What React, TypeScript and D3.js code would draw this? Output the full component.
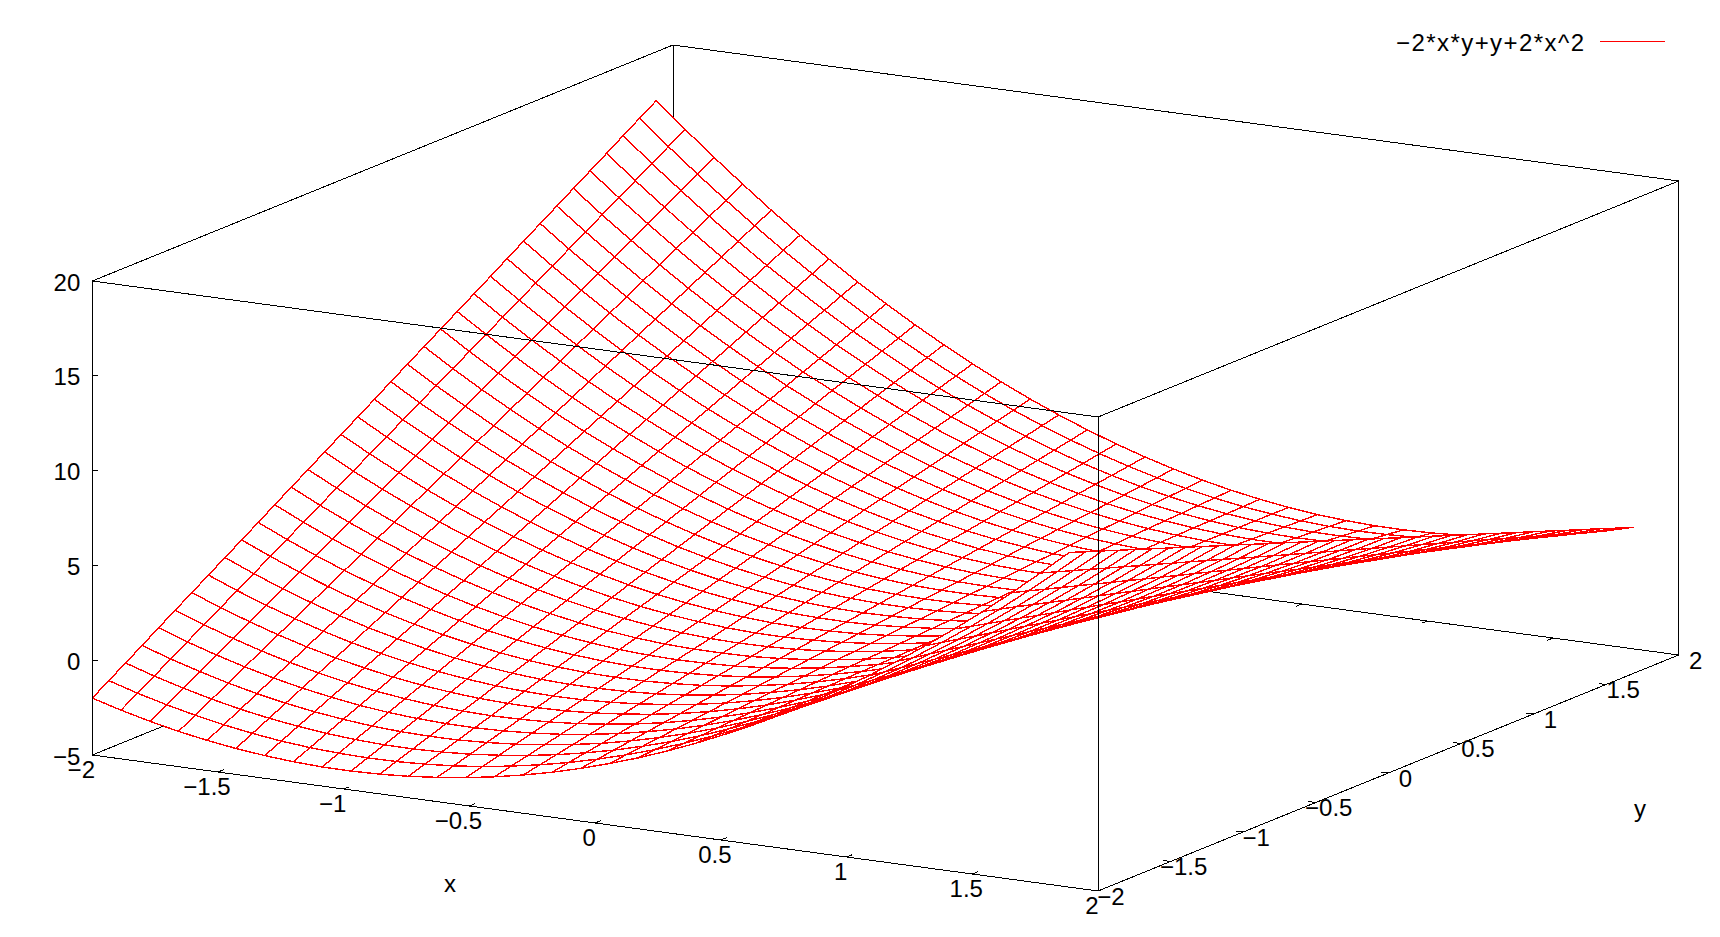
import React, { useEffect, useRef } from "react";
import * as d3 from "d3";

const samples = [-2,-1.886,-1.771,-1.657,-1.543,-1.429,-1.314,-1.2,-1.086,-0.971,-0.857,-0.743,-0.629,-0.514,-0.4,-0.286,-0.171,-0.057,0.057,0.171,0.286,0.4,0.514,0.629,0.743,0.857,0.971,1.086,1.2,1.314,1.429,1.543,1.657,1.771,1.886];

// z per x sample (rows) and y sample (columns)
const zRows = [
[-2,-1.43,-0.86,-0.29,0.29,0.86,1.43,2,2.57,3.14,3.71,4.29,4.86,5.43,6,6.57,7.14,7.71,8.29,8.86,9.43,10,10.57,11.14,11.71,12.29,12.86,13.43,14,14.57,15.14,15.71,16.29,16.86,17.43],
[-2.43,-1.89,-1.34,-0.80,-0.25,0.30,0.84,1.39,1.93,2.48,3.02,3.57,4.11,4.66,5.20,5.75,6.29,6.84,7.38,7.93,8.47,9.02,9.57,10.11,10.66,11.20,11.75,12.29,12.84,13.38,13.93,14.47,15.02,15.56,16.11],
[-2.81,-2.29,-1.77,-1.25,-0.73,-0.21,0.31,0.82,1.34,1.86,2.38,2.90,3.42,3.94,4.46,4.98,5.50,6.02,6.54,7.06,7.57,8.09,8.61,9.13,9.65,10.17,10.69,11.21,11.73,12.25,12.77,13.29,13.81,14.32,14.84],
[-3.14,-2.64,-2.15,-1.66,-1.16,-0.67,-0.18,0.32,0.81,1.30,1.79,2.29,2.78,3.27,3.77,4.26,4.75,5.25,5.74,6.23,6.73,7.22,7.71,8.21,8.70,9.19,9.68,10.18,10.67,11.16,11.66,12.15,12.64,13.14,13.63],
[-3.41,-2.94,-2.48,-2.01,-1.54,-1.08,-0.61,-0.14,0.32,0.79,1.26,1.73,2.19,2.66,3.13,3.59,4.06,4.53,4.99,5.46,5.93,6.39,6.86,7.33,7.80,8.26,8.73,9.20,9.66,10.13,10.60,11.06,11.53,12.00,12.46],
[-3.63,-3.19,-2.75,-2.31,-1.87,-1.43,-0.99,-0.55,-0.11,0.33,0.78,1.22,1.66,2.10,2.54,2.98,3.42,3.86,4.30,4.74,5.18,5.62,6.06,6.50,6.95,7.39,7.83,8.27,8.71,9.15,9.59,10.03,10.47,10.91,11.35],
[-3.80,-3.39,-2.97,-2.56,-2.14,-1.73,-1.31,-0.90,-0.48,-0.07,0.35,0.76,1.17,1.59,2.00,2.42,2.83,3.25,3.66,4.08,4.49,4.91,5.32,5.74,6.15,6.57,6.98,7.39,7.81,8.22,8.64,9.05,9.47,9.88,10.30],
[-3.92,-3.53,-3.14,-2.75,-2.37,-1.98,-1.59,-1.20,-0.81,-0.42,-0.03,0.35,0.74,1.13,1.52,1.91,2.30,2.69,3.07,3.46,3.85,4.24,4.63,5.02,5.41,5.79,6.18,6.57,6.96,7.35,7.74,8.13,8.51,8.90,9.29],
[-3.99,-3.62,-3.26,-2.90,-2.54,-2.17,-1.81,-1.45,-1.09,-0.72,-0.36,0.00,0.36,0.73,1.09,1.45,1.81,2.18,2.54,2.90,3.26,3.63,3.99,4.35,4.71,5.08,5.44,5.80,6.16,6.53,6.89,7.25,7.61,7.98,8.34],
[-4.00,-3.66,-3.33,-2.99,-2.65,-2.32,-1.98,-1.64,-1.31,-0.97,-0.64,-0.30,0.04,0.37,0.71,1.05,1.38,1.72,2.06,2.39,2.73,3.06,3.40,3.74,4.07,4.41,4.75,5.08,5.42,5.76,6.09,6.43,6.76,7.10,7.44],
[-3.96,-3.65,-3.34,-3.03,-2.72,-2.41,-2.10,-1.79,-1.48,-1.17,-0.86,-0.55,-0.24,0.07,0.38,0.69,1.00,1.31,1.62,1.93,2.24,2.55,2.86,3.18,3.49,3.80,4.11,4.42,4.73,5.04,5.35,5.66,5.97,6.28,6.59],
[-3.87,-3.58,-3.30,-3.02,-2.73,-2.45,-2.16,-1.88,-1.60,-1.31,-1.03,-0.74,-0.46,-0.17,0.11,0.39,0.68,0.96,1.25,1.53,1.81,2.10,2.38,2.67,2.95,3.23,3.52,3.80,4.09,4.37,4.65,4.94,5.22,5.51,5.79],
[-3.72,-3.47,-3.21,-2.95,-2.69,-2.43,-2.18,-1.92,-1.66,-1.40,-1.14,-0.89,-0.63,-0.37,-0.11,0.15,0.40,0.66,0.92,1.18,1.44,1.69,1.95,2.21,2.47,2.73,2.98,3.24,3.50,3.76,4.02,4.27,4.53,4.79,5.05],
[-3.53,-3.30,-3.06,-2.83,-2.60,-2.37,-2.14,-1.91,-1.67,-1.44,-1.21,-0.98,-0.75,-0.51,-0.28,-0.05,0.18,0.41,0.64,0.88,1.11,1.34,1.57,1.80,2.04,2.27,2.50,2.73,2.96,3.19,3.43,3.66,3.89,4.12,4.35],
[-3.28,-3.07,-2.87,-2.66,-2.46,-2.25,-2.05,-1.84,-1.63,-1.43,-1.22,-1.02,-0.81,-0.61,-0.40,-0.19,0.01,0.22,0.42,0.63,0.83,1.04,1.25,1.45,1.66,1.86,2.07,2.27,2.48,2.69,2.89,3.10,3.30,3.51,3.71],
[-2.98,-2.80,-2.62,-2.44,-2.26,-2.08,-1.90,-1.72,-1.54,-1.36,-1.18,-1.00,-0.82,-0.65,-0.47,-0.29,-0.11,0.07,0.25,0.43,0.61,0.79,0.97,1.15,1.33,1.51,1.69,1.87,2.05,2.23,2.41,2.59,2.77,2.95,3.13],
[-2.63,-2.47,-2.32,-2.17,-2.01,-1.86,-1.71,-1.55,-1.40,-1.25,-1.09,-0.94,-0.79,-0.63,-0.48,-0.33,-0.17,-0.02,0.14,0.29,0.44,0.60,0.75,0.90,1.06,1.21,1.36,1.52,1.67,1.82,1.98,2.13,2.28,2.44,2.59],
[-2.22,-2.09,-1.97,-1.84,-1.71,-1.59,-1.46,-1.33,-1.20,-1.08,-0.95,-0.82,-0.69,-0.57,-0.44,-0.31,-0.19,-0.06,0.07,0.20,0.32,0.45,0.58,0.71,0.83,0.96,1.09,1.22,1.34,1.47,1.60,1.73,1.85,1.98,2.11],
[-1.76,-1.66,-1.56,-1.46,-1.36,-1.26,-1.16,-1.06,-0.96,-0.85,-0.75,-0.65,-0.55,-0.45,-0.35,-0.25,-0.15,-0.04,0.06,0.16,0.26,0.36,0.46,0.56,0.66,0.77,0.87,0.97,1.07,1.17,1.27,1.37,1.47,1.58,1.68],
[-1.26,-1.18,-1.11,-1.03,-0.96,-0.88,-0.81,-0.73,-0.65,-0.58,-0.50,-0.43,-0.35,-0.28,-0.20,-0.13,-0.05,0.02,0.10,0.17,0.25,0.32,0.40,0.47,0.55,0.62,0.70,0.77,0.85,0.92,1.00,1.07,1.15,1.22,1.30],
[-0.69,-0.64,-0.60,-0.55,-0.50,-0.45,-0.40,-0.35,-0.30,-0.25,-0.20,-0.15,-0.11,-0.06,-0.01,0.04,0.09,0.14,0.19,0.24,0.29,0.33,0.38,0.43,0.48,0.53,0.58,0.63,0.68,0.73,0.78,0.82,0.87,0.92,0.97],
[-0.08,-0.06,-0.03,-0.01,0.01,0.03,0.06,0.08,0.10,0.13,0.15,0.17,0.19,0.22,0.24,0.26,0.29,0.31,0.33,0.35,0.38,0.40,0.42,0.45,0.47,0.49,0.51,0.54,0.56,0.58,0.61,0.63,0.65,0.67,0.70],
[0.59,0.58,0.58,0.58,0.57,0.57,0.57,0.56,0.56,0.56,0.55,0.55,0.55,0.54,0.54,0.54,0.53,0.53,0.53,0.52,0.52,0.52,0.51,0.51,0.51,0.50,0.50,0.50,0.49,0.49,0.49,0.48,0.48,0.48,0.47],
[1.30,1.27,1.25,1.22,1.19,1.16,1.13,1.10,1.07,1.04,1.01,0.98,0.95,0.92,0.89,0.86,0.83,0.80,0.77,0.75,0.72,0.69,0.66,0.63,0.60,0.57,0.54,0.51,0.48,0.45,0.42,0.39,0.36,0.33,0.30],
[2.08,2.02,1.96,1.91,1.85,1.80,1.74,1.69,1.63,1.58,1.52,1.46,1.41,1.35,1.30,1.24,1.19,1.13,1.08,1.02,0.96,0.91,0.85,0.80,0.74,0.69,0.63,0.58,0.52,0.47,0.41,0.35,0.30,0.24,0.19],
[2.90,2.82,2.73,2.65,2.57,2.49,2.41,2.33,2.24,2.16,2.08,2.00,1.92,1.84,1.76,1.67,1.59,1.51,1.43,1.35,1.27,1.18,1.10,1.02,0.94,0.86,0.78,0.69,0.61,0.53,0.45,0.37,0.29,0.20,0.12],
[3.77,3.67,3.56,3.45,3.34,3.23,3.13,3.02,2.91,2.80,2.70,2.59,2.48,2.37,2.26,2.16,2.05,1.94,1.83,1.73,1.62,1.51,1.40,1.29,1.19,1.08,0.97,0.86,0.76,0.65,0.54,0.43,0.32,0.22,0.11],
[4.70,4.57,4.43,4.30,4.16,4.03,3.90,3.76,3.63,3.49,3.36,3.23,3.09,2.96,2.83,2.69,2.56,2.42,2.29,2.16,2.02,1.89,1.75,1.62,1.49,1.35,1.22,1.09,0.95,0.82,0.68,0.55,0.42,0.28,0.15],
[5.68,5.52,5.36,5.20,5.04,4.88,4.72,4.56,4.40,4.24,4.08,3.92,3.76,3.60,3.44,3.28,3.12,2.96,2.80,2.64,2.48,2.32,2.16,2.00,1.84,1.68,1.52,1.36,1.20,1.04,0.88,0.72,0.56,0.40,0.24],
[6.71,6.53,6.34,6.15,5.97,5.78,5.60,5.41,5.22,5.04,4.85,4.66,4.48,4.29,4.11,3.92,3.73,3.55,3.36,3.18,2.99,2.80,2.62,2.43,2.25,2.06,1.87,1.69,1.50,1.32,1.13,0.94,0.76,0.57,0.38],
[7.80,7.58,7.37,7.16,6.95,6.73,6.52,6.31,6.10,5.89,5.67,5.46,5.25,5.04,4.82,4.61,4.40,4.19,3.98,3.76,3.55,3.34,3.13,2.91,2.70,2.49,2.28,2.07,1.85,1.64,1.43,1.22,1.00,0.79,0.58],
[8.93,8.69,8.46,8.22,7.98,7.74,7.50,7.26,7.03,6.79,6.55,6.31,6.07,5.83,5.59,5.36,5.12,4.88,4.64,4.40,4.16,3.93,3.69,3.45,3.21,2.97,2.73,2.50,2.26,2.02,1.78,1.54,1.30,1.06,0.83],
[10.12,9.86,9.59,9.33,9.06,8.80,8.53,8.27,8.00,7.74,7.47,7.21,6.95,6.68,6.42,6.15,5.89,5.62,5.36,5.09,4.83,4.57,4.30,4.04,3.77,3.51,3.24,2.98,2.71,2.45,2.19,1.92,1.66,1.39,1.13],
[11.36,11.07,10.78,10.49,10.20,9.91,9.62,9.33,9.04,8.75,8.46,8.17,7.87,7.58,7.29,7.00,6.71,6.42,6.13,5.84,5.55,5.26,4.97,4.68,4.39,4.10,3.81,3.52,3.23,2.94,2.64,2.35,2.06,1.77,1.48],
[12.65,12.34,12.02,11.70,11.39,11.07,10.75,10.44,10.12,9.80,9.49,9.17,8.85,8.54,8.22,7.90,7.59,7.27,6.95,6.64,6.32,6.00,5.69,5.37,5.05,4.74,4.42,4.10,3.79,3.47,3.15,2.84,2.52,2.20,1.89],
];

const xTicks = [-2, -1.5, -1, -0.5, 0, 0.5, 1, 1.5, 2];
const yTicks = [-2, -1.5, -1, -0.5, 0, 0.5, 1, 1.5, 2];
const zTicks = [-5, 0, 5, 10, 15, 20];
const legendLabel = "\u22122*x*y+y+2*x^2";

const fontFamily = "'Liberation Sans', sans-serif";
const fmt = (v: number) => String(v).replace("-", "\u2212");

export default function App() {
  const ref = useRef<SVGSVGElement>(null);

  useEffect(() => {
    const svg = d3.select(ref.current);
    svg.selectAll("*").remove();

    // the box is an oblique projection, so each axis gets a screen x and a screen y scale
    const xToPx = d3.scaleLinear().domain([-2, 2]).range([0, 1005.7]);
    const xToPy = d3.scaleLinear().domain([-2, 2]).range([0, 136]);
    const yToPx = d3.scaleLinear().domain([-2, 2]).range([92.3, 673]);
    const yToPy = d3.scaleLinear().domain([-2, 2]).range([755, 519]);
    const zToPy = d3.scaleLinear().domain([-5, 20]).range([0, -474]);

    const px = (x: number, y: number) => xToPx(x) + yToPx(y);
    const py = (x: number, y: number, z: number) => xToPy(x) + yToPy(y) + zToPy(z);
    const pt = (x: number, y: number, z: number): [number, number] => [px(x, y), py(x, y, z)];

    // gnuplot default view 60/30, bigger means further from the viewer
    const depth = (x: number, y: number, z: number) => {
      const nx = x / 2, ny = y / 2, nz = (z - 7.5) / 12.5;
      return (-nx * 0.5 + ny * 0.866) * 0.866 - nz * 0.5;
    };

    const line = d3.line();
    const black = (g: any, pts: [number, number][]) =>
      g.append("path")
        .attr("d", line(pts))
        .attr("fill", "none")
        .attr("stroke", "#000")
        .attr("stroke-width", 1)
        .attr("shape-rendering", "crispEdges");

    const back = svg.append("g");
    black(back, [pt(-2, -2, -5), pt(-2, 2, -5), pt(2, 2, -5)]);
    black(back, [pt(-2, 2, -5), pt(-2, 2, 20)]);
    // mirrored ticks on the back floor edges
    xTicks.slice(1, -1).forEach((t) => black(back, [pt(t, 2, -5), pt(t, 1.96, -5)]));
    yTicks.slice(1, -1).forEach((t) => black(back, [pt(-2, t, -5), pt(-1.97, t, -5)]));

    // quads back to front, white fill takes out the hidden lines
    const quads: { d: number; pts: [number, number][] }[] = [];
    for (let i = 0; i < samples.length - 1; i++) {
      for (let j = 0; j < samples.length - 1; j++) {
        const x0 = samples[i], x1 = samples[i + 1];
        const y0 = samples[j], y1 = samples[j + 1];
        const zs = [zRows[i][j], zRows[i + 1][j], zRows[i + 1][j + 1], zRows[i][j + 1]];
        quads.push({
          d: depth((x0 + x1) / 2, (y0 + y1) / 2, d3.mean(zs) as number),
          pts: [pt(x0, y0, zs[0]), pt(x1, y0, zs[1]), pt(x1, y1, zs[2]), pt(x0, y1, zs[3])],
        });
      }
    }
    quads.sort((a, b) => b.d - a.d);

    svg.append("g")
      .selectAll("path")
      .data(quads)
      .join("path")
      .attr("d", (q) => line(q.pts) + "Z")
      .attr("fill", "#fff")
      .attr("stroke", "#f00")
      .attr("stroke-width", 1.4)
      .attr("stroke-linejoin", "round")
      .attr("shape-rendering", "crispEdges");

    const front = svg.append("g");
    black(front, [pt(-2, -2, -5), pt(2, -2, -5), pt(2, 2, -5)]);
    black(front, [pt(-2, -2, -5), pt(-2, -2, 20)]);
    black(front, [pt(2, -2, -5), pt(2, -2, 20)]);
    black(front, [pt(2, 2, -5), pt(2, 2, 20)]);
    black(front, [pt(-2, -2, 20), pt(2, -2, 20), pt(2, 2, 20), pt(-2, 2, 20), pt(-2, -2, 20)]);

    xTicks.slice(1, -1).forEach((t) => black(front, [pt(t, -2, -5), pt(t, -1.96, -5)]));
    yTicks.slice(1, -1).forEach((t) => black(front, [pt(2, t, -5), pt(1.97, t, -5)]));
    zTicks.slice(1, -1).forEach((t) => {
      const [x0, y0] = pt(-2, -2, t);
      black(front, [[x0, y0], [x0 + 6, y0]]);
    });

    const label = (txt: string, x: number, y: number, anchor = "middle") =>
      svg.append("text")
        .attr("x", x)
        .attr("y", y)
        .attr("text-anchor", anchor)
        .attr("dominant-baseline", "central")
        .attr("font-family", fontFamily)
        .attr("font-size", 24)
        .attr("fill", "#000")
        .text(txt);

    zTicks.forEach((t) => {
      const [x0, y0] = pt(-2, -2, t);
      label(fmt(t), x0 - 12, y0 + 1, "end");
    });
    xTicks.forEach((t) => {
      const [x0, y0] = pt(t, -2, -5);
      label(fmt(t), x0 + (t < 0 ? -11 : -6), y0 + 14);
    });
    yTicks.forEach((t) => {
      const [x0, y0] = pt(2, t, -5);
      label(fmt(t), x0 + (t < 0 ? 13 : 17), y0 + 5);
    });
    label("x", 450, 883);
    label("y", 1640, 808);

    // the reference's font is wider here, so the legend is spread to its measured width
    label(legendLabel, 1396, 42, "start")
      .attr("textLength", 188)
      .attr("lengthAdjust", "spacing");
    svg.append("line")
      .attr("x1", 1600).attr("x2", 1665)
      .attr("y1", 41).attr("y2", 41)
      .attr("stroke", "#f00")
      .attr("shape-rendering", "crispEdges");
  }, []);

  return (
    <svg
      ref={ref}
      width={1720}
      height={937}
      style={{ position: "absolute", left: 0, top: 0, background: "#fff", display: "block" }}
    />
  );
}
